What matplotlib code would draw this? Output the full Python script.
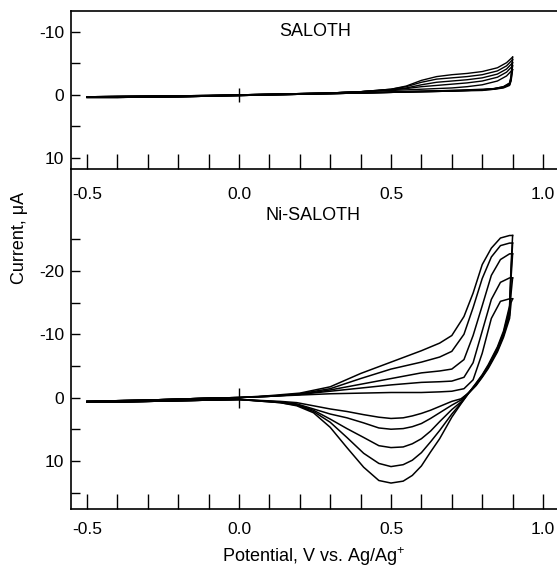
import matplotlib
matplotlib.use("Agg")
import matplotlib.pyplot as plt
from matplotlib.ticker import MultipleLocator, FixedLocator

plt.rcParams['font.family'] = ['Liberation Sans', 'DejaVu Sans']
plt.rcParams['mathtext.fontset'] = 'custom'
plt.rcParams['mathtext.rm'] = 'Liberation Sans'
plt.rcParams['axes.unicode_minus'] = False

# ---- SALOTH (top panel), current in uA, 5 cycles ----
E_top_fwd = [-0.50, -0.30, -0.10, 0.00, 0.10, 0.20, 0.30, 0.40, 0.50, 0.55,
             0.60, 0.65, 0.70, 0.75, 0.80, 0.85, 0.88, 0.90]
top_fwd_1 = [0.3, 0.2, 0.1, 0.0, -0.1, -0.2, -0.3, -0.5, -0.7, -0.8, -0.9, -1.0, -1.1, -1.3, -1.6, -2.2, -3.0, -4.0]
top_fwd_2 = [0.3, 0.2, 0.1, 0.0, -0.1, -0.2, -0.3, -0.5, -0.8, -1.0, -1.3, -1.5, -1.7, -1.9, -2.2, -2.8, -3.6, -4.6]
top_fwd_3 = [0.3, 0.2, 0.1, 0.0, -0.1, -0.2, -0.3, -0.5, -0.8, -1.1, -1.6, -2.0, -2.2, -2.4, -2.7, -3.3, -4.1, -5.1]
top_fwd_4 = [0.3, 0.2, 0.1, 0.0, -0.1, -0.2, -0.3, -0.5, -0.9, -1.3, -2.0, -2.5, -2.7, -2.9, -3.2, -3.8, -4.6, -5.6]
top_fwd_5 = [0.3, 0.2, 0.1, 0.0, -0.1, -0.2, -0.3, -0.5, -0.9, -1.4, -2.3, -2.9, -3.2, -3.4, -3.7, -4.3, -5.1, -6.0]

E_top_rev = [0.90, 0.895, 0.89, 0.87, 0.84, 0.80, 0.70, 0.60, 0.50, 0.40, 0.20, 0.00, -0.20, -0.40, -0.50]
top_rev_1 = [-4.0, -2.2, -1.5, -1.1, -0.9, -0.7, -0.6, -0.5, -0.4, -0.3, -0.1, 0.1, 0.3, 0.4, 0.4]
top_rev_2 = [-4.6, -2.4, -1.6, -1.2, -0.9, -0.8, -0.6, -0.5, -0.4, -0.3, -0.1, 0.1, 0.3, 0.4, 0.4]
top_rev_3 = [-5.1, -2.6, -1.7, -1.2, -1.0, -0.8, -0.6, -0.5, -0.4, -0.3, -0.1, 0.1, 0.3, 0.4, 0.4]
top_rev_4 = [-5.6, -2.8, -1.8, -1.3, -1.0, -0.8, -0.7, -0.6, -0.4, -0.3, -0.1, 0.1, 0.3, 0.4, 0.4]
top_rev_5 = [-6.0, -3.0, -1.9, -1.3, -1.0, -0.9, -0.7, -0.6, -0.5, -0.3, -0.1, 0.1, 0.3, 0.4, 0.4]

# ---- Ni-SALOTH (bottom panel), 5 cycles ----
E_bot_fwd = [-0.50, -0.30, -0.10, 0.00, 0.10, 0.20, 0.30, 0.40, 0.50, 0.60,
             0.66, 0.70, 0.74, 0.77, 0.80, 0.83, 0.86, 0.89, 0.90]
bot_fwd_1 = [0.6, 0.4, 0.1, 0.0, -0.2, -0.4, -0.6, -0.7, -0.8, -0.8, -0.9, -1.0, -1.4, -2.8, -7.0, -12.5, -15.2, -15.6, -15.6]
bot_fwd_2 = [0.6, 0.4, 0.1, 0.0, -0.2, -0.5, -1.0, -1.5, -2.0, -2.4, -2.5, -2.6, -3.2, -5.5, -10.5, -15.5, -18.2, -18.9, -18.9]
bot_fwd_3 = [0.6, 0.4, 0.1, 0.0, -0.2, -0.5, -1.2, -2.1, -3.0, -3.9, -4.2, -4.5, -6.0, -9.8, -14.5, -19.3, -21.8, -22.7, -22.7]
bot_fwd_4 = [0.6, 0.4, 0.1, 0.0, -0.2, -0.6, -1.4, -3.0, -4.5, -5.6, -6.4, -7.3, -10.0, -14.2, -18.8, -22.2, -24.0, -24.4, -24.4]
bot_fwd_5 = [0.6, 0.4, 0.1, 0.0, -0.3, -0.7, -1.7, -3.8, -5.6, -7.4, -8.6, -9.8, -12.8, -16.5, -21.0, -23.6, -25.2, -25.6, -25.6]

E_bot_rev = [0.90, 0.895, 0.89, 0.87, 0.85, 0.82, 0.80, 0.78, 0.76, 0.73, 0.70, 0.66, 0.63,
             0.60, 0.57, 0.54, 0.50, 0.46, 0.41, 0.355, 0.30, 0.245, 0.19, 0.135, 0.00,
             -0.20, -0.40, -0.50]
bot_rev_1 = [-15.6, -15.0, -12.5, -9.5, -7.2, -4.6, -3.2, -1.9, -0.9, 0.2, 0.6, 1.4, 2.0,
             2.5, 2.9, 3.2, 3.3, 3.1, 2.7, 2.2, 1.8, 1.3, 0.8, 0.6, 0.3, 0.5, 0.7, 0.7]
bot_rev_2 = [-18.9, -16.5, -13.0, -9.8, -7.4, -4.8, -3.3, -2.0, -1.0, 0.4, 1.2, 2.4, 3.3,
             4.1, 4.6, 4.9, 5.0, 4.8, 4.0, 3.2, 2.6, 1.8, 1.0, 0.7, 0.3, 0.5, 0.7, 0.7]
bot_rev_3 = [-22.7, -19.0, -13.5, -10.0, -7.6, -4.9, -3.4, -2.1, -1.0, 0.7, 1.9, 3.8, 5.3,
             6.5, 7.3, 7.8, 7.9, 7.6, 6.3, 4.9, 3.4, 2.0, 1.1, 0.7, 0.3, 0.5, 0.7, 0.7]
bot_rev_4 = [-24.4, -20.0, -14.0, -10.2, -7.8, -5.0, -3.5, -2.2, -1.0, 0.9, 2.6, 5.2, 7.0,
             8.7, 9.9, 10.6, 10.9, 10.4, 8.8, 6.3, 3.9, 2.2, 1.2, 0.8, 0.3, 0.5, 0.7, 0.7]
bot_rev_5 = [-25.6, -21.0, -14.5, -10.5, -8.0, -5.2, -3.6, -2.3, -1.0, 1.0, 3.1, 6.5, 8.6,
             10.8, 12.3, 13.2, 13.5, 13.1, 11.0, 7.9, 4.7, 2.4, 1.3, 0.8, 0.3, 0.5, 0.7, 0.7]

top_cycles = [(top_fwd_1, top_rev_1), (top_fwd_2, top_rev_2), (top_fwd_3, top_rev_3),
              (top_fwd_4, top_rev_4), (top_fwd_5, top_rev_5)]
bot_cycles = [(bot_fwd_1, bot_rev_1), (bot_fwd_2, bot_rev_2), (bot_fwd_3, bot_rev_3),
              (bot_fwd_4, bot_rev_4), (bot_fwd_5, bot_rev_5)]

x_ticklabels = ['-0.5', '0.0', '0.5', '1.0']

W, H = 557, 569
fig = plt.figure(figsize=(W / 100, H / 100), dpi=100)
left = 71 / W
ax_top = fig.add_axes([left, 1 - 169 / H, 1 - left, 158 / H])
ax_bot = fig.add_axes([left, 1 - 509 / H, 1 - left, 340 / H])
ax_bot.set_facecolor('none')

for fwd, rev in top_cycles:
    ax_top.plot(E_top_fwd, fwd, color='black', lw=1.0)
    ax_top.plot(E_top_rev, rev, color='black', lw=1.0)
for fwd, rev in bot_cycles:
    ax_bot.plot(E_bot_fwd, fwd, color='black', lw=1.1)
    ax_bot.plot(E_bot_rev, rev, color='black', lw=1.1)

# origin cross marks
ax_top.plot(0, 0, marker='|', ms=10, mew=1.0, color='black')
ax_bot.plot(0, 0, marker='|', ms=14, mew=1.0, color='black')

ax_top.set_ylim(11.75, -13.3)
ax_bot.set_ylim(17.6, -36.1)

for ax, pad in ((ax_top, 13), (ax_bot, 9)):
    ax.set_xlim(-0.5526, 1.046)
    ax.xaxis.set_major_locator(FixedLocator([-0.5, 0.0, 0.5, 1.0]))
    ax.set_xticklabels(x_ticklabels)
    ax.xaxis.set_minor_locator(MultipleLocator(0.1))
    ax.tick_params(axis='x', which='both', direction='in', length=11, width=1.0,
                   labelsize=12.5, pad=pad)
    ax.tick_params(axis='y', which='both', direction='in', length=6.5, width=1.0,
                   labelsize=12.5, pad=5)
    ax.spines['right'].set_visible(False)
    for s in ('left', 'bottom', 'top'):
        ax.spines[s].set_linewidth(1.2)

ax_top.yaxis.set_major_locator(FixedLocator([-10, 0, 10]))
ax_top.yaxis.set_minor_locator(FixedLocator([-5, 5]))
ax_bot.yaxis.set_major_locator(FixedLocator([-20, -10, 0, 10]))
ax_bot.yaxis.set_minor_locator(FixedLocator([-25, -15, -5, 5, 15]))
ax_bot.spines['top'].set_visible(False)

ax_top.text(0.25, -10, 'SALOTH', ha='center', va='center', fontsize=13)
ax_bot.text(0.243, -28.7, 'Ni-SALOTH', ha='center', va='center', fontsize=13)

fig.text(20 / W, 1 - 238 / H, 'Current, \u03bcA', rotation=90, ha='center', va='center', fontsize=13)
fig.text(314 / W, 1 - 557 / H, 'Potential, V vs. Ag/Ag$^{+}$', ha='center', va='center', fontsize=13)

fig.savefig('out.png', dpi=100)
